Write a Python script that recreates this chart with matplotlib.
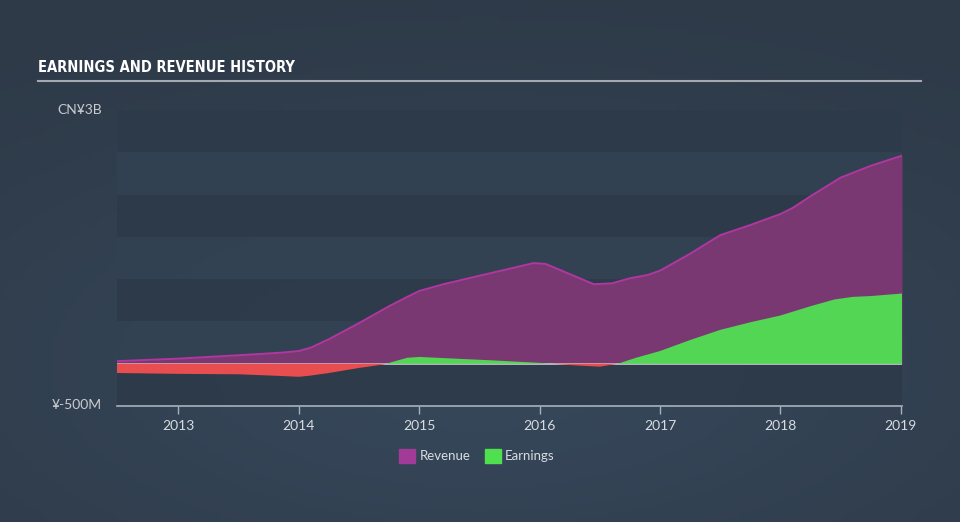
import matplotlib.pyplot as plt
import numpy as np

plt.rcParams['font.family'] = ['Lato', 'DejaVu Sans']

# data (CN¥ billions)
rev_t = [2012.49, 2013.0, 2013.5, 2013.85, 2014.0, 2014.1, 2014.25, 2014.5, 2014.75, 2014.9,
         2015.0, 2015.2, 2015.5, 2015.8, 2015.95, 2016.05, 2016.2, 2016.35, 2016.45, 2016.6,
         2016.75, 2016.9, 2017.0, 2017.25, 2017.5, 2017.75, 2018.0, 2018.1, 2018.25, 2018.5,
         2018.75, 2019.01]
revenue = [0.03, 0.06, 0.10, 0.13, 0.15, 0.19, 0.29, 0.48, 0.68, 0.79,
           0.86, 0.94, 1.04, 1.14, 1.19, 1.18, 1.09, 1.00, 0.94, 0.95,
           1.01, 1.05, 1.10, 1.30, 1.52, 1.64, 1.77, 1.84, 1.98, 2.20,
           2.34, 2.46]

earn_t = [2012.49, 2013.0, 2013.5, 2013.85, 2014.0, 2014.1, 2014.25, 2014.5, 2014.7, 2014.8,
          2014.9, 2015.0, 2015.3, 2015.6, 2016.0, 2016.3, 2016.5, 2016.65, 2016.8, 2017.0,
          2017.25, 2017.5, 2017.75, 2018.0, 2018.25, 2018.45, 2018.6, 2018.75, 2019.01]
earnings = [-0.11, -0.12, -0.125, -0.145, -0.155, -0.14, -0.11, -0.05, -0.01, 0.03,
            0.07, 0.08, 0.06, 0.04, 0.01, -0.02, -0.035, 0.0, 0.07, 0.15,
            0.28, 0.40, 0.49, 0.57, 0.68, 0.76, 0.79, 0.80, 0.83]

years = [2013, 2014, 2015, 2016, 2017, 2018, 2019]

bg = '#323f4e'
fig = plt.figure(figsize=(9.6, 5.22), dpi=100, facecolor=bg)

# soft background glow
bgax = fig.add_axes([0, 0, 1, 1], zorder=-10)
gx, gy = np.meshgrid(np.linspace(-1, 1, 200), np.linspace(-1, 1, 120))
glow = np.exp(-((gx * 0.9) ** 2 + ((gy - 0.4) * 1.1) ** 2))
bgax.imshow(glow, cmap=plt.matplotlib.colors.LinearSegmentedColormap.from_list(
    'g', ['#2e3a48', '#36475a']), aspect='auto', extent=[0, 1, 0, 1])
bgax.axis('off')

ax = fig.add_axes([117/960, 1 - 406/522, 785/960, 296/522])
ax.set_facecolor('none')

# alternating bands
for i, lo in enumerate(np.arange(-0.5, 3.0, 0.5)):
    c = '#2d3a49' if i % 2 == 0 else '#334252'
    ax.axhspan(lo, lo + 0.5, color=c, lw=0, zorder=0, alpha=0.9)

rt = np.array(rev_t)
rv = np.array(revenue)
ax.fill_between(rt, 0, rv, color='#7a3873', lw=0, zorder=2)
ax.plot(rt, rv, color='#b0379f', lw=1.4, zorder=3)

et = np.array(earn_t)
ev = np.array(earnings)
ax.axhline(0, color='#c8ccd2', lw=1.2, zorder=2.5)
ax.fill_between(et, 0, ev, where=ev >= 0, interpolate=True, color='#52d654', lw=0, zorder=4)
ax.fill_between(et, 0, ev, where=ev <= 0, interpolate=True, color='#e84d4f', lw=0, zorder=4)

ax.set_xlim(2012.49, 2019.01)
ax.set_ylim(-0.5, 3.0)
for s in ['top', 'right', 'left']:
    ax.spines[s].set_visible(False)
ax.spines['bottom'].set_color('#a9b0ba')
ax.spines['bottom'].set_linewidth(1.2)
ax.set_yticks([])
ax.set_xticks(years)
ax.set_xticklabels([str(y) for y in years])
ax.tick_params(axis='x', colors='#a9b0ba', length=6, width=1, labelcolor='#d8dce0',
               labelsize=10, pad=4)

# y labels
fig.text(102/960, 1 - 110/522, 'CN¥3B', ha='right', va='center', color='#c8ccd0', fontsize=10)
fig.text(102/960, 1 - 405/522, '¥-500M', ha='right', va='center', color='#c8ccd0', fontsize=10)

# title
fig.text(38/960, 1 - 68/522, 'EARNINGS AND REVENUE HISTORY', ha='left', va='center',
         color='white', fontsize=10.5, fontweight='bold', fontstretch='condensed',
         family='DejaVu Sans')
fig.add_artist(plt.Line2D([38/960, 921/960], [1 - 81/522, 1 - 81/522], color='#a3a9b1', lw=1.5))

# legend
ly = 1 - 456/522
fig.patches.append(plt.Rectangle((399/960, ly - 7/522), 16/960, 14/522, color='#a23a98',
                                 transform=fig.transFigure, figure=fig))
fig.text(420/960, ly, 'Revenue', ha='left', va='center', color='#d8dce0', fontsize=9.5)
fig.patches.append(plt.Rectangle((485/960, ly - 7/522), 16/960, 14/522, color='#4fe04f',
                                 transform=fig.transFigure, figure=fig))
fig.text(505/960, ly, 'Earnings', ha='left', va='center', color='#d8dce0', fontsize=9.5)

plt.savefig('out.png', dpi=100, facecolor=bg)
